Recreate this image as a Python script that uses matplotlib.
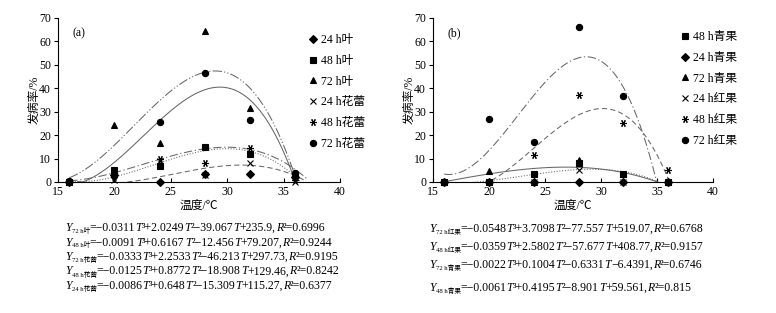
import numpy as np
import matplotlib
matplotlib.use("Agg")
import matplotlib.pyplot as plt
from matplotlib.offsetbox import TextArea, HPacker, AnnotationBbox

plt.rcParams['font.family'] = ['Liberation Serif', 'Noto Sans CJK SC']

temps = [16, 20, 24, 28, 32, 36]

# (a) 叶 / 花蕾 发病率 (%)
leaf_24 = [0, 3, 0, 3.5, 3.5, 2]
leaf_48 = [0, 5, 7, 15, 12, 3]
leaf_72 = [0.5, 24.5, 16.5, 64.5, 31.5, 4]
bud_24 = [0, 1, 9, 3, 8, 0]
bud_48 = [0, 2, 10, 8, 14.5, 1]
bud_72 = [0.5, 3.5, 25.5, 46.5, 26.5, 4]

# (b) 青果 / 红果 发病率 (%)
green_48 = [0, 0, 3.5, 8, 3.5, 0]
green_24 = [0, 0, 0, 0, 0, 0]
green_72 = [0, 4.5, 0, 9.5, 3.5, 0]
red_24 = [0, 0, 0, 5, 0, 0]
red_48 = [0, 0, 11.5, 37, 25, 5]
red_72 = [0, 27, 17, 66, 36.5, 0]

# fitted cubic coefficients (T^3, T^2, T, 1) and R^2, as printed under the charts
fit_a_labels = ['72 h叶', '48 h叶', '72 h花蕾', '48 h花蕾', '24 h花蕾']
fit_a_coefs = [[-0.0311, 2.0249, -39.067, 235.9],
               [-0.0091, 0.6167, -12.456, 79.207],
               [-0.0333, 2.2533, -46.213, 297.73],
               [-0.0125, 0.8772, -18.908, 129.46],
               [-0.0086, 0.648, -15.309, 115.27]]
fit_a_r2 = [0.6996, 0.9244, 0.9195, 0.8242, 0.6377]

fit_b_labels = ['72 h红果', '48 h红果', '72 h青果', '48 h青果']
fit_b_coefs = [[-0.0548, 3.7098, -77.557, 519.07],
               [-0.0359, 2.5802, -57.677, 408.77],
               [-0.0022, 0.1004, -0.6331, -6.4391],
               [-0.0061, 0.4195, -8.901, 59.561]]
fit_b_r2 = [0.6768, 0.9157, 0.6746, 0.815]

W, H = 776, 313
fig = plt.figure(figsize=(W / 100, H / 100), dpi=100)
ax_a = fig.add_axes([58 / W, 1 - 182 / H, 282 / W, 164 / H])
ax_b = fig.add_axes([433 / W, 1 - 182 / H, 280 / W, 164 / H])

star = (6, 2, 90)
series_a = [(leaf_24, 'D', '24 h叶'), (leaf_48, 's', '48 h叶'), (leaf_72, '^', '72 h叶'),
            (bud_24, 'x', '24 h花蕾'), (bud_48, star, '48 h花蕾'), (bud_72, 'o', '72 h花蕾')]
series_b = [(green_48, 's', '48 h青果'), (green_24, 'D', '24 h青果'), (green_72, '^', '72 h青果'),
            (red_24, 'x', '24 h红果'), (red_48, star, '48 h红果'), (red_72, 'o', '72 h红果')]

styles_a = [(0, (9, 2, 1.2, 2, 1.2, 2)), (0, (8, 2.5, 1.2, 2.5)), '-', ':', (0, (5, 3))]
styles_b = [(0, (8, 2.5, 1.2, 2.5)), (0, (5, 3)), '-', ':']

tt = np.linspace(16, 37, 300)


def setup(ax, series, coefs, styles, tag, leg_x, leg_y):
    for c, ls in zip(coefs, styles):
        ax.plot(tt, np.polyval(c, tt), color='#666666', lw=0.75, ls=ls)
    for vals, m, lab in series:
        ms = {'D': 4.2, 's': 4.2, '^': 4.2, 'o': 4.5}.get(m, 5)
        ax.plot(temps, vals, ls='none', marker=m, color='black', ms=ms,
                mew=0.8, label=lab, clip_on=False, zorder=3)
    ax.set_xlim(15, 40)
    ax.set_ylim(0, 70)
    ax.set_xticks(range(15, 41, 5))
    ax.set_yticks(range(0, 71, 10))
    ax.spines['top'].set_visible(False)
    ax.spines['right'].set_visible(False)
    ax.tick_params(axis='x', direction='in', length=3, labelsize=8.5, pad=3)
    ax.tick_params(axis='y', direction='out', length=3, labelsize=8.5, pad=2)
    ax.set_xlabel('温度/℃', fontsize=8.5, labelpad=1)
    ax.set_ylabel('发病率/%', fontsize=8.5, labelpad=-1)
    ax.text(16.3, 63.5, tag, fontsize=8.5, va='center')
    ax.legend(loc='upper left', bbox_to_anchor=(leg_x / W, 1 - leg_y / H),
              bbox_transform=fig.transFigure, frameon=False, borderpad=0,
              fontsize=8.5, handlelength=0.8, handletextpad=0.3, labelspacing=0.75)


setup(ax_a, series_a, fit_a_coefs, styles_a, '(a)', 302, 28)
setup(ax_b, series_b, fit_b_coefs, styles_b, '(b)', 674, 25)


def fmt(v):
    return f"{abs(v):g}"


def eq_line(x, y, sub, c, r2, fs=8.5):
    main = dict(fontsize=fs, color='black')
    ital = dict(fontsize=fs, color='black', style='italic')
    sign = lambda v: '−' if v < 0 else '+'
    parts = [('Y', ital), (sub, dict(fontsize=4.8, color='black')),
             ('=' + sign(c[0]) + fmt(c[0]), main), ('T', ital), ('³' + sign(c[1]) + fmt(c[1]), main),
             ('T', ital), ('²' + sign(c[2]) + fmt(c[2]), main), ('T', ital),
             (sign(c[3]) + fmt(c[3]) + ',', main), ('R', ital), ('²=' + fmt(r2), main)]
    kids = [TextArea(s, textprops=p) for s, p in parts]
    box = HPacker(children=kids, align='bottom', pad=0, sep=0)
    ab = AnnotationBbox(box, (x / W, 1 - y / H), xycoords='figure fraction',
                        box_alignment=(0, 0.5), frameon=False, pad=0)
    fig.add_artist(ab)


for i, (lab, c, r2) in enumerate(zip(fit_a_labels, fit_a_coefs, fit_a_r2)):
    eq_line(65, 228 + i * 14.5, lab, c, r2)

for i, (lab, c, r2) in enumerate(zip(fit_b_labels, fit_b_coefs, fit_b_r2)):
    eq_line(429, [229, 247, 265, 288][i], lab, c, r2)

fig.savefig('out.png', dpi=100)
